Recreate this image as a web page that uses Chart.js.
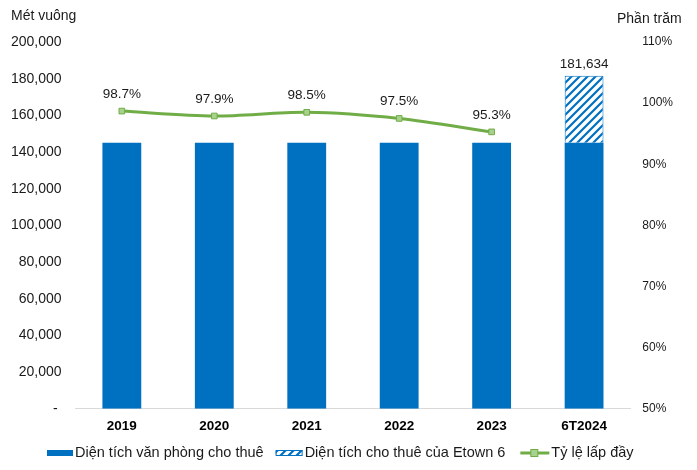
<!DOCTYPE html>
<html>
<head>
<meta charset="utf-8">
<script src="https://cdn.jsdelivr.net/npm/chart.js@4.4.1/dist/chart.umd.min.js"></script>
<style>
  html, body { margin: 0; padding: 0; background: #fff; }
  #wrap { width: 697px; height: 470px; position: relative; }
</style>
</head>
<body>
<div id="wrap"><canvas id="chart"></canvas></div>
<script>
// data
const categories = ['2019', '2020', '2021', '2022', '2023', '6T2024'];
const officeArea = [145000, 145000, 145000, 145000, 145000, 145000];
const etownArea = [null, null, null, null, null, 36634];
const totalLabels = [null, null, null, null, null, '181,634'];
const occupancy = [98.7, 97.9, 98.5, 97.5, 95.3, null];

const BLUE = '#0070C0';
const GREEN = '#70AD47';
const FONT = 'Arial, "Liberation Sans", sans-serif';

// diagonal hatch for the Etown 6 part
function makeHatch() {
    const c = document.createElement('canvas');
    c.width = 8; c.height = 8;
    const g = c.getContext('2d');
    g.fillStyle = '#fff';
    g.fillRect(0, 0, 8, 8);
    g.strokeStyle = BLUE;
    g.lineWidth = 2.2;
    g.beginPath();
    g.moveTo(-2, 10); g.lineTo(10, -2);
    g.moveTo(-6, 6); g.lineTo(6, -6);
    g.moveTo(2, 14); g.lineTo(14, 2);
    g.stroke();
    return g.createPattern(c, 'repeat');
}
const hatch = makeHatch();

const labelPlugin = {
    id: 'labels',
    afterDatasetsDraw(chart) {
        const ctx = chart.ctx;
        ctx.save();
        ctx.font = '13.5px ' + FONT;
        ctx.fillStyle = '#1a1a1a';
        ctx.textAlign = 'center';
        ctx.textBaseline = 'bottom';
        chart.getDatasetMeta(2).data.forEach((pt, i) => {
            if (occupancy[i] == null) return;
            ctx.fillText(occupancy[i].toFixed(1) + '%', pt.x, pt.y - 10);
        });
        chart.getDatasetMeta(1).data.forEach((bar, i) => {
            if (!totalLabels[i]) return;
            ctx.fillText(totalLabels[i], bar.x, bar.y - 5);
        });
        // axis titles
        ctx.font = '14px ' + FONT;
        ctx.textBaseline = 'middle';
        ctx.textAlign = 'left';
        ctx.fillText('Mét vuông', 11, 16);
        ctx.fillText('Phần trăm', 617, 19);
        ctx.restore();
    }
};

// legend drawn by hand so the swatches sit tight against their text
const legendPlugin = {
    id: 'bottomLegend',
    afterDraw(chart) {
        const ctx = chart.ctx;
        const ds = chart.data.datasets;
        const y = 453;
        ctx.save();
        ctx.font = '14.5px ' + FONT;
        ctx.textBaseline = 'middle';
        ctx.textAlign = 'left';
        let x = 47;
        // solid bar swatch
        ctx.fillStyle = BLUE;
        ctx.fillRect(x, y - 3, 26, 6);
        x += 28;
        ctx.fillStyle = '#1a1a1a';
        ctx.fillText(ds[0].label, x, y);
        x += ctx.measureText(ds[0].label).width + 12;
        // hatched swatch
        ctx.fillStyle = hatch;
        ctx.fillRect(x, y - 3, 27, 6);
        ctx.strokeStyle = BLUE;
        ctx.lineWidth = 1;
        ctx.strokeRect(x + 0.5, y - 2.5, 26, 5);
        x += 29;
        ctx.fillStyle = '#1a1a1a';
        ctx.fillText(ds[1].label, x, y);
        x += ctx.measureText(ds[1].label).width + 15;
        // line swatch
        ctx.strokeStyle = GREEN;
        ctx.lineWidth = 3;
        ctx.beginPath(); ctx.moveTo(x, y); ctx.lineTo(x + 29, y); ctx.stroke();
        ctx.fillStyle = '#A9D18E';
        ctx.fillRect(x + 10.5, y - 3.5, 7, 7);
        ctx.lineWidth = 1;
        ctx.strokeRect(x + 10.5, y - 3.5, 7, 7);
        x += 31;
        ctx.fillStyle = '#1a1a1a';
        ctx.fillText(ds[2].label, x, y);
        ctx.restore();
    }
};

new Chart(document.getElementById('chart'), {
    type: 'bar',
    data: {
        labels: categories,
        datasets: [
            {
                label: 'Diện tích văn phòng cho thuê',
                data: officeArea,
                backgroundColor: BLUE,
                barPercentage: 0.42,
                categoryPercentage: 1,
                order: 2
            },
            {
                label: 'Diện tích cho thuê của Etown 6',
                data: etownArea,
                backgroundColor: hatch,
                borderColor: BLUE,
                borderWidth: 1,
                barPercentage: 0.42,
                categoryPercentage: 1,
                order: 2
            },
            {
                type: 'line',
                label: 'Tỷ lệ lấp đầy',
                data: occupancy,
                yAxisID: 'y1',
                borderColor: GREEN,
                borderWidth: 3,
                tension: 0.3,
                pointStyle: 'rect',
                pointRadius: 4,
                pointBackgroundColor: '#A9D18E',
                pointBorderColor: GREEN,
                pointBorderWidth: 1,
                order: 1
            }
        ]
    },
    options: {
        responsive: true,
        maintainAspectRatio: false,
        animation: false,
        layout: { padding: { top: 42, left: -3, right: 12, bottom: 27 } },
        scales: {
            x: {
                stacked: true,
                grid: { display: false, drawTicks: false },
                border: { color: '#d9d9d9' },
                ticks: { color: '#000', font: { family: FONT, size: 13.5, weight: 'bold' }, padding: 9 }
            },
            y: {
                stacked: true,
                min: 0,
                max: 200000,
                grid: { display: false, drawTicks: false },
                border: { display: false },
                ticks: {
                    stepSize: 20000,
                    padding: 14,
                    color: '#1a1a1a',
                    font: { family: FONT, size: 14 },
                    callback: v => v === 0 ? '- ' : v.toLocaleString('en-US')
                }
            },
            y1: {
                position: 'right',
                min: 50,
                max: 110,
                grid: { display: false, drawTicks: false },
                border: { display: false },
                ticks: {
                    stepSize: 10,
                    padding: 12,
                    color: '#1a1a1a',
                    font: { family: FONT, size: 12 },
                    callback: v => v + '%'
                }
            }
        },
        plugins: {
            tooltip: { enabled: false },
            legend: { display: false }
        }
    },
    plugins: [labelPlugin, legendPlugin]
});
</script>
</body>
</html>
